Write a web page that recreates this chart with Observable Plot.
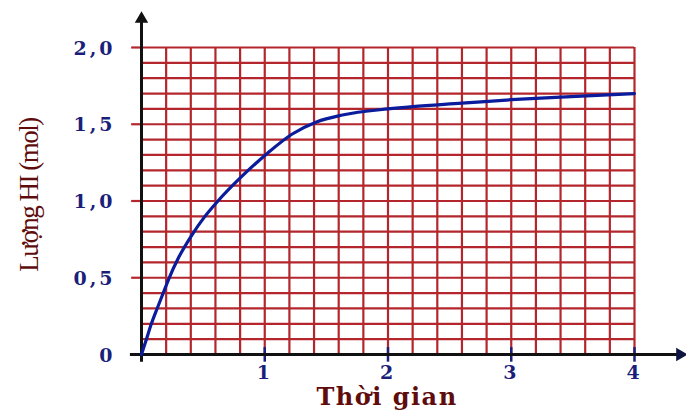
<!DOCTYPE html>
<html>
<head>
<meta charset="utf-8">
<script src="https://cdn.jsdelivr.net/npm/d3@7"></script>
<script src="https://cdn.jsdelivr.net/npm/@observablehq/plot@0.6"></script>
<style>
  html, body { margin: 0; padding: 0; background: #fff; }
  #chart svg { display: block; }
</style>
</head>
<body>
<div id="chart"></div>
<script>
// Data
const time = [0, 0.04, 0.08, 0.127, 0.176, 0.22, 0.3, 0.41, 0.51, 0.62, 0.82, 1.02, 1.22, 1.42, 1.63, 2.0, 2.2, 2.6, 3.0, 3.4, 4.0];
const hi   = [0, 0.10, 0.20, 0.30, 0.40, 0.49, 0.63, 0.78, 0.895, 1.0, 1.165, 1.31, 1.435, 1.515, 1.56, 1.60, 1.615, 1.637, 1.66, 1.677, 1.7];

const xTicks = [1, 2, 3, 4];
const xTickLabels = ["1", "2", "3", "4"];
const yTicks = [0, 0.5, 1.0, 1.5, 2.0];
const yTickLabels = ["0", "0,5", "1,0", "1,5", "2,0"];
const xTitle = "Thời gian";
const yTitle = "Lượng HI (mol)";

const xDomain = [0, 4];
const yDomain = [0, 2];
const xGridStep = 0.2;
const yGridStep = 0.1;

const curveData = time.map((t, i) => ({t, v: hi[i]}));
const xGrid = d3.range(1, Math.round(xDomain[1] / xGridStep) + 1).map(k => +(k * xGridStep).toFixed(2));
const yGrid = d3.range(1, Math.round(yDomain[1] / yGridStep) + 1).map(k => +(k * yGridStep).toFixed(2));
const yMajor = yTicks.filter(d => d > 0);

const xAxisEnd = xDomain[1] * 1.1;
const yAxisEnd = yDomain[1] * 1.108;
const xAxisStart = -0.09;
const yAxisStart = -0.05;

const gridColor = "#b3272c";
const navy = "#1b1f7a";
const maroon = "#5e0c0c";
const tickFont = "DejaVu Serif, serif";

const chart = Plot.plot({
  width: 686,
  height: 412,
  marginLeft: 141,
  marginRight: 52,
  marginTop: 47,
  marginBottom: 58,
  x: {domain: xDomain, axis: null},
  y: {domain: yDomain, axis: null},
  marks: [
    // grid
    Plot.ruleX(xGrid, {x: d => d, y1: yDomain[0], y2: yDomain[1], stroke: gridColor, strokeWidth: 2.2}),
    Plot.ruleY(yGrid, {y: d => d, x1: xDomain[0], x2: xDomain[1], stroke: gridColor, strokeWidth: 2.2}),
    Plot.ruleY(yMajor, {y: d => d, x1: -0.08, x2: xDomain[0], stroke: gridColor, strokeWidth: 2.2}),
    // x ticks
    Plot.ruleX(xTicks, {x: d => d, y1: -0.05, y2: 0.045, stroke: navy, strokeWidth: 2.5}),
    // axes
    Plot.ruleY([0], {x1: xAxisStart, x2: xAxisEnd - 0.05, stroke: "#111", strokeWidth: 3}),
    Plot.ruleX([0], {y1: yAxisStart, y2: yAxisEnd - 0.04, stroke: "#111", strokeWidth: 3}),
    Plot.dot([0], {x: xAxisEnd - 0.03, y: 0, symbol: "triangle", r: 5, fill: "#0d1540", stroke: null, rotate: 90}),
    Plot.dot([0], {x: 0, y: yAxisEnd - 0.03, symbol: "triangle", r: 5, fill: "#111", stroke: null}),
    // curve
    Plot.line(curveData, {x: "t", y: "v", curve: "monotone-x", stroke: "#0a1c9c", strokeWidth: 3.2}),
    // tick labels
    Plot.text(yTicks, {x: 0, y: d => d, text: (d, i) => yTickLabels[i], textAnchor: "end", dx: -26, dy: 1,
      fill: navy, fontSize: 19, fontWeight: "bold", fontFamily: tickFont}),
    Plot.text(xTicks, {x: d => d, y: 0, text: (d, i) => xTickLabels[i], dy: 18,
      fill: navy, fontSize: 19, fontWeight: "bold", fontFamily: tickFont}),
    // titles
    Plot.text([xTitle], {frameAnchor: "bottom", text: d => d, dy: 50, dx: -1,
      fill: maroon, fontSize: 24, fontWeight: "bold", fontFamily: tickFont}),
    Plot.text([yTitle], {frameAnchor: "left", textAnchor: "middle", text: d => d, dx: -112, dy: -6, rotate: -90,
      fill: maroon, fontSize: 27, fontFamily: "Liberation Serif, serif"})
  ]
});

const texts = d3.select(chart).selectAll("text");
texts.each(function() {
  const g = this.parentNode;
  const fs = this.getAttribute("font-size") || g.getAttribute("font-size");
  const fam = this.getAttribute("font-family") || g.getAttribute("font-family") || "";
  if (fam.startsWith("Liberation")) d3.select(this).style("letter-spacing", "-1.5px");
  else if (String(fs) === "24") d3.select(this).style("letter-spacing", "1.5px");
  else d3.select(this).style("letter-spacing", "3px");
});

document.getElementById("chart").appendChild(chart);
</script>
</body>
</html>
